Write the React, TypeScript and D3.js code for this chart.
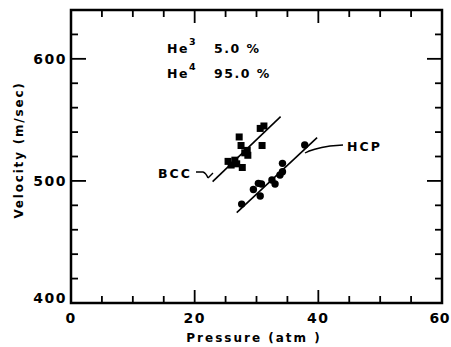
import React from "react";
import * as d3 from "d3";

const bccPressure = [27.2, 27.5, 28.5, 28.6, 30.6, 31.2, 30.9, 25.4, 25.9, 26.5, 26.8, 27.7, 28.1];
const bccVelocity = [536, 529, 525, 521, 543, 545, 529, 516, 513, 517, 514, 511, 523];
const hcpPressure = [27.6, 29.5, 30.3, 30.8, 30.6, 32.5, 33.0, 33.8, 34.2, 34.2, 37.8];
const hcpVelocity = [481, 493, 498, 497.5, 487.6, 500.7, 497.5, 504.8, 507.5, 514.4, 529.4];
const bccFitP = [22.9, 33.9];
const bccFitV = [499.4, 552.6];
const hcpFitP = [26.8, 39.8];
const hcpFitV = [474, 535.4];
const xTickLabels = [0, 20, 40, 60];
const yTickLabels = [400, 500, 600];

const W = 451;
const H = 347;
const FONT = "'DejaVu Sans', sans-serif";

export default function App() {
  const x = d3.scaleLinear().domain([0, 60]).range([71, 442]);
  const y = d3.scaleLinear().domain([400, 640]).range([303, 10]);
  const [x0, x1] = x.range();
  const [y0, y1] = y.range();

  const xMinor = d3.range(0, 61, 5);
  const yMinor = d3.range(400, 641, 20);

  const line = d3
    .line<[number, number]>()
    .x((d) => x(d[0]))
    .y((d) => y(d[1]));

  const bccFit: [number, number][] = bccFitP.map((p, i) => [p, bccFitV[i]]);
  const hcpFit: [number, number][] = hcpFitP.map((p, i) => [p, hcpFitV[i]]);

  const sq = 7;

  return (
    <svg
      width={W}
      height={H}
      style={{ position: "absolute", left: 0, top: 0, background: "#fff" }}
      fontFamily={FONT}
      fontWeight="bold"
    >
      <rect x={0} y={0} width={W} height={H} fill="#fff" />
      {/* frame */}
      <rect
        x={x0}
        y={y1}
        width={x1 - x0}
        height={y0 - y1}
        fill="none"
        stroke="#000"
        strokeWidth={2.5}
      />
      {/* x ticks bottom and top */}
      {xMinor.map((v) => {
        const major = v % 20 === 0;
        const len = major ? 13 : 7;
        if (v === 0 || v === 60) return null;
        return (
          <g key={"xt" + v}>
            <line x1={x(v)} x2={x(v)} y1={y0} y2={y0 - len} stroke="#000" strokeWidth={1.8} />
            <line x1={x(v)} x2={x(v)} y1={y1} y2={y1 + len} stroke="#000" strokeWidth={1.8} />
          </g>
        );
      })}
      {/* y ticks left and right */}
      {yMinor.map((v) => {
        const major = v % 100 === 0;
        const len = major ? 15 : 7;
        if (v === 400 || v === 640) return null;
        return (
          <g key={"yt" + v}>
            <line x1={x0} x2={x0 + len} y1={y(v)} y2={y(v)} stroke="#000" strokeWidth={1.8} />
            <line x1={x1} x2={x1 - len} y1={y(v)} y2={y(v)} stroke="#000" strokeWidth={1.8} />
          </g>
        );
      })}
      {/* tick labels */}
      {xTickLabels.map((v) => (
        <text
          key={"xl" + v}
          x={v === 60 ? 450 : x(v)}
          y={323}
          textAnchor={v === 60 ? "end" : "middle"}
          fontSize={14}
          letterSpacing={v === 60 ? 0.5 : 1.5}
        >
          {v}
        </text>
      ))}
      {yTickLabels.map((v) => (
        <text
          key={"yl" + v}
          x={67}
          y={v === 400 ? y(v) - 0 : y(v) + 5}
          textAnchor="end"
          fontSize={14}
          letterSpacing={1.5}
        >
          {v}
        </text>
      ))}
      {/* axis titles */}
      <text x={254} y={342} textAnchor="middle" fontSize={12} letterSpacing={2}>
        Pressure  (atm )
      </text>
      <text
        transform={`translate(23,150) rotate(-90)`}
        textAnchor="middle"
        fontSize={12}
        letterSpacing={1.8}
      >
        Velocity (m/sec)
      </text>
      {/* composition annotation */}
      <text x={167} y={53} fontSize={12.5} letterSpacing={1.5}>
        He
        <tspan dy={-8} fontSize={9.5}>3</tspan>
        <tspan x={214} dy={8}>5.0 %</tspan>
      </text>
      <text x={167} y={78} fontSize={12.5} letterSpacing={1.5}>
        He
        <tspan dy={-8} fontSize={9.5}>4</tspan>
        <tspan x={214} dy={8}>95.0 %</tspan>
      </text>
      {/* fit lines */}
      <path d={line(bccFit) || ""} fill="none" stroke="#000" strokeWidth={1.6} />
      <path d={line(hcpFit) || ""} fill="none" stroke="#000" strokeWidth={1.6} />
      {/* BCC squares */}
      {bccPressure.map((p, i) => (
        <rect
          key={"b" + i}
          x={x(p) - sq / 2}
          y={y(bccVelocity[i]) - sq / 2}
          width={sq}
          height={sq}
          fill="#000"
        />
      ))}
      {/* HCP circles */}
      {hcpPressure.map((p, i) => (
        <circle key={"h" + i} cx={x(p)} cy={y(hcpVelocity[i])} r={3.7} fill="#000" />
      ))}
      {/* labels with leaders */}
      <text x={158} y={178} fontSize={12.5} letterSpacing={2}>
        BCC
      </text>
      <path
        d="M196,172 L203,172 Q206,173 208,178 M208,178 L213,173"
        fill="none"
        stroke="#000"
        strokeWidth={1.4}
      />
      <text x={347} y={151} fontSize={12.5} letterSpacing={2}>
        HCP
      </text>
      <path
        d="M305,153 Q312,149 330,146 L343,145"
        fill="none"
        stroke="#000"
        strokeWidth={1.4}
      />
    </svg>
  );
}
